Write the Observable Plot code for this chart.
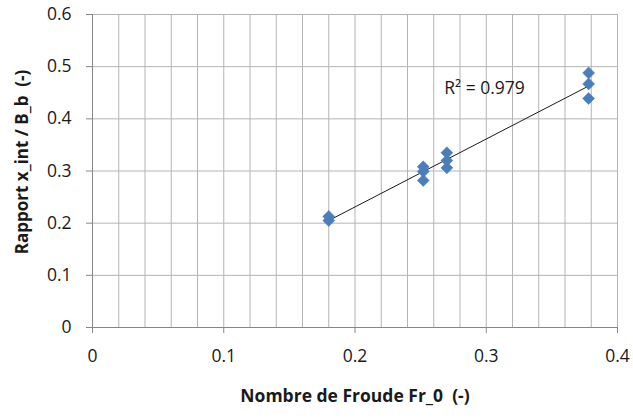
<!DOCTYPE html>
<html><head><meta charset="utf-8">
<script src="https://cdn.jsdelivr.net/npm/d3@7"></script>
<script src="https://cdn.jsdelivr.net/npm/@observablehq/plot@0.6"></script>
<style>
  html,body{margin:0;padding:0;background:#fff;}
  #chart svg{display:block;}
</style>
</head><body><div id="chart"></div>
<script>
// Data
const froude  = [0.18, 0.18, 0.252, 0.252, 0.252, 0.27, 0.27, 0.27, 0.378, 0.378, 0.378];
const rapport = [0.213, 0.205, 0.308, 0.299, 0.282, 0.335, 0.320, 0.306, 0.488, 0.467, 0.439];

// Axis ticks and grid
const xTicks = [0, 0.1, 0.2, 0.3, 0.4];
const yTicks = [0, 0.1, 0.2, 0.3, 0.4, 0.5, 0.6];
const xGrid  = [0.02, 0.04, 0.06, 0.08, 0.1, 0.12, 0.14, 0.16, 0.18, 0.2, 0.22, 0.24, 0.26, 0.28, 0.3, 0.32, 0.34, 0.36, 0.38, 0.4];

// Labels
const xLabel = "Nombre de Froude Fr_0  (-)";
const yLabel = "Rapport x_int / B_b  (-)";
const r2Text = ["R² = 0.979"];
const r2At   = [{x: 0.268, y: 0.458}];

const data = froude.map((f, i) => ({f, r: rapport[i]}));
const notes = r2Text.map((t, i) => ({t, ...r2At[i]}));

const font = "'Open Sans', Lato, sans-serif";

const chart = Plot.plot({
  width: 633,
  height: 419,
  marginLeft: 92,
  marginRight: 16,
  marginTop: 14,
  marginBottom: 92,
  x: {domain: [0, 0.4]},
  y: {domain: [0, 0.6]},
  style: {fontFamily: font, fontSize: "17.5px", color: "#1a1a1a", background: "#fff"},
  marks: [
    Plot.ruleX(xGrid, {stroke: "#b4b4b4", strokeWidth: 1}),
    Plot.ruleY(yTicks.slice(1), {stroke: "#b4b4b4", strokeWidth: 1}),
    Plot.ruleX([0], {stroke: "#868686"}),
    Plot.ruleY([0], {stroke: "#868686"}),
    Plot.axisX({
      ticks: xTicks, tickFormat: d => String(d), tickSize: 6, tickPadding: 16,
      stroke: "#868686", strokeOpacity: 1, fill: "#1a1a1a",
      label: null
    }),
    Plot.axisY({
      ticks: yTicks, tickFormat: d => String(d), tickSize: 6, tickPadding: 15,
      stroke: "#868686", strokeOpacity: 1, fill: "#1a1a1a",
      label: null
    }),
    Plot.text([xLabel], {frameAnchor: "bottom", dy: 74, text: d => d, textAnchor: "middle", fontWeight: "bold", fontSize: 17.5, fill: "#1a1a1a"}),
    Plot.text([yLabel], {frameAnchor: "left", dx: -70, dy: -9, rotate: -90, textAnchor: "middle", text: d => d, fontWeight: "bold", fontSize: 17, fill: "#1a1a1a"}),
    Plot.linearRegressionY(data, {x: "f", y: "r", stroke: "#1a1a1a", strokeWidth: 1, ci: 0}),
    Plot.dot(data, {x: "f", y: "r", symbol: "diamond2", r: 5.4, fill: "#4a7ebb", stroke: "#4a7ebb", strokeWidth: 0.5}),
    Plot.text(notes, {x: "x", y: "y", text: "t", textAnchor: "start", fontSize: 17.5, fill: "#1a1a1a"})
  ]
});
document.getElementById("chart").append(chart);
</script>
</body></html>
